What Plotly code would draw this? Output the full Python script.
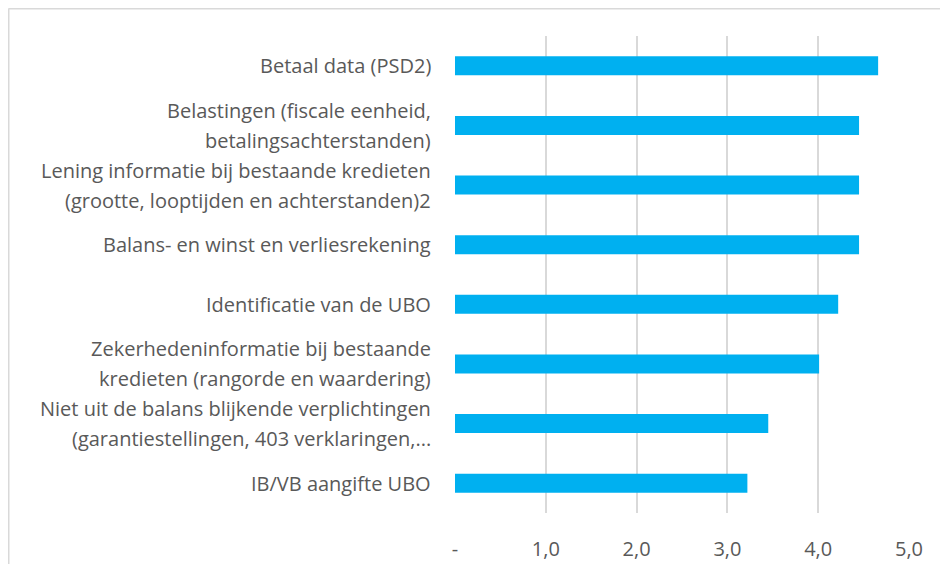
import plotly.graph_objects as go

categories = [
    "Betaal data (PSD2)",
    "Belastingen (fiscale eenheid,\nbetalingsachterstanden)",
    "Lening informatie bij bestaande kredieten\n(grootte, looptijden en achterstanden)2",
    "Balans- en winst en verliesrekening",
    "Identificatie van de UBO",
    "Zekerhedeninformatie bij bestaande\nkredieten (rangorde en waardering)",
    "Niet uit de balans blijkende verplichtingen\n(garantiestellingen, 403 verklaringen,...",
    "IB/VB aangifte UBO",
]
values = [4.66, 4.45, 4.45, 4.45, 4.22, 4.01, 3.45, 3.22]
tick_vals = [0, 1, 2, 3, 4, 5]
tick_text = ["-", "1,0", "2,0", "3,0", "4,0", "5,0"]

# page has an 8px body margin; figure sized to fit inside the window
W, H = 932, 556
L, R, T, B = 447, 31, 28, 51
pw, ph = W - L - R, H - T - B

FONT = "Open Sans, Lato, sans-serif"
GRAY = "#595959"

fig = go.Figure(go.Bar(
    x=values, y=categories, orientation="h",
    marker=dict(color="#00B0F0", line=dict(width=0)),
))

annotations = []
for cat in categories:
    lines = cat.split("\n")
    n = len(lines)
    for i, ln in enumerate(lines):
        shift = (n - 1) / 2 * 30 - i * 30
        annotations.append(dict(
            x=0, xref="paper", y=cat, yref="y", text=ln, showarrow=False,
            xanchor="right", yanchor="middle", xshift=-22, yshift=shift,
            font=dict(family=FONT, size=20, color=GRAY),
        ))

bx = (0.5 - L) / pw
by = (H - B - 0.5) / ph
fig.update_layout(
    width=W, height=H,
    margin=dict(l=L, r=R, t=T, b=B, pad=0, autoexpand=False),
    paper_bgcolor="white", plot_bgcolor="white",
    bargap=0.68, showlegend=False,
    annotations=annotations,
    shapes=[
        dict(type="line", xref="paper", yref="paper", layer="below",
             x0=bx, x1=bx, y0=(H - B - H) / ph, y1=by,
             line=dict(color="#d9d9d9", width=2)),
        dict(type="line", xref="paper", yref="paper", layer="below",
             x0=bx, x1=(W - L) / pw, y0=by, y1=by,
             line=dict(color="#d9d9d9", width=2)),
    ],
)
fig.update_xaxes(
    range=[0, 5], tickvals=tick_vals, ticktext=tick_text,
    showgrid=True, gridcolor="#d9d9d9", gridwidth=1.5,
    zeroline=False, showline=False, ticks="",
    ticklabelstandoff=22, automargin=False,
    tickfont=dict(family=FONT, size=20, color=GRAY),
)
fig.update_yaxes(
    autorange="reversed", showticklabels=False, showgrid=False,
    zeroline=False, showline=False, ticks="", automargin=False,
)
fig.write_html("out.html")
